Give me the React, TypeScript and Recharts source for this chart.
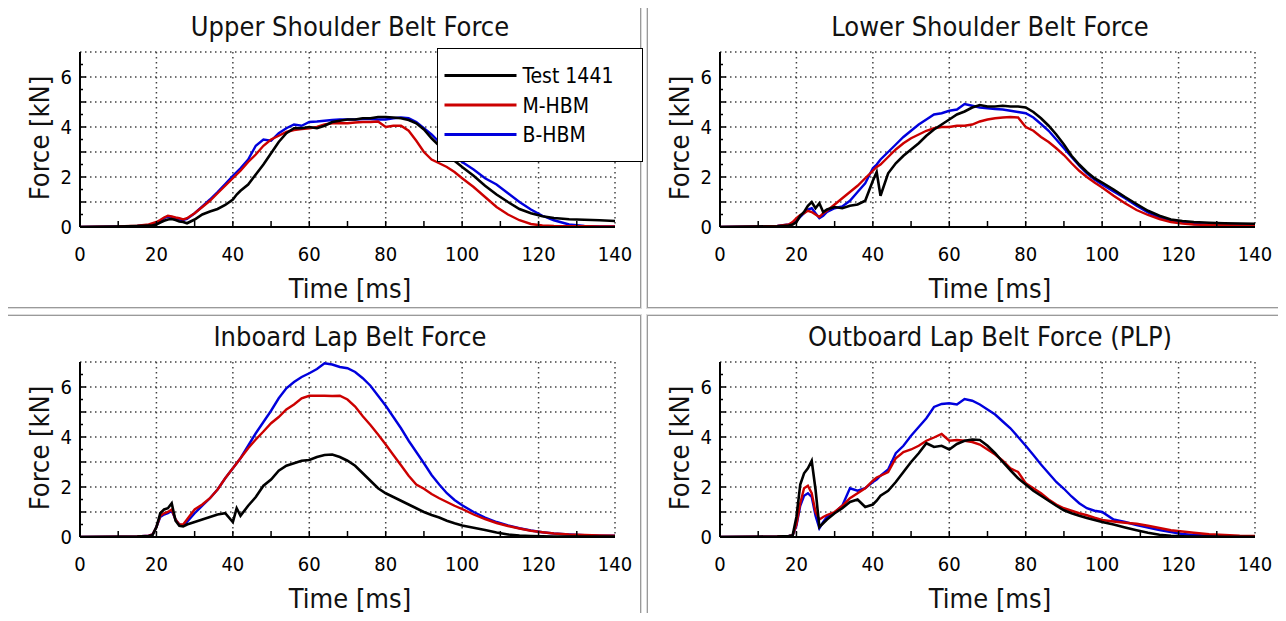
import React from 'react';
import { LineChart, Line, XAxis, YAxis, CartesianGrid, Legend } from 'recharts';

// Time samples [ms]
const time = [0, 10, 15, 18, 19, 20, 21, 22, 23, 24, 25, 26, 27, 28, 30, 32, 34, 36, 38, 40, 41, 42, 44, 46, 48, 50, 52, 54, 56, 58, 60, 62, 64, 66, 68, 70, 72, 74, 76, 78, 80, 82, 84, 86, 88, 90, 92, 94, 96, 98, 100, 103, 106, 109, 112, 115, 118, 121, 124, 128, 132, 136, 140];

// Upper Shoulder Belt Force [kN]
const upperTest = [0, 0.02, 0.04, 0.06, 0.07, 0.1, 0.18, 0.25, 0.3, 0.32, 0.28, 0.22, 0.2, 0.15, 0.3, 0.5, 0.62, 0.72, 0.88, 1.1, 1.3, 1.45, 1.7, 2.1, 2.5, 2.95, 3.4, 3.75, 3.95, 3.95, 4.0, 3.95, 4.05, 4.2, 4.25, 4.3, 4.3, 4.35, 4.35, 4.4, 4.4, 4.38, 4.35, 4.28, 4.15, 3.9, 3.55, 3.25, 2.95, 2.65, 2.4, 2.05, 1.65, 1.3, 1.0, 0.72, 0.55, 0.43, 0.36, 0.31, 0.29, 0.27, 0.24];
const upperM = [0, 0.02, 0.05, 0.1, 0.15, 0.2, 0.28, 0.38, 0.45, 0.42, 0.38, 0.35, 0.3, 0.35, 0.55, 0.8, 1.05, 1.35, 1.65, 1.95, 2.1, 2.25, 2.6, 2.9, 3.25, 3.5, 3.65, 3.8, 3.88, 3.92, 3.95, 4.0, 4.1, 4.15, 4.15, 4.15, 4.18, 4.2, 4.2, 4.22, 4.0, 4.05, 4.05, 3.85, 3.45, 3.0, 2.7, 2.55, 2.4, 2.2, 1.95, 1.6, 1.2, 0.8, 0.5, 0.27, 0.12, 0.06, 0.04, 0.03, 0.03, 0.02, 0.02];
const upperB = [0, 0.02, 0.04, 0.08, 0.12, 0.18, 0.25, 0.35, 0.42, 0.4, 0.35, 0.3, 0.28, 0.32, 0.55, 0.82, 1.1, 1.4, 1.72, 2.05, 2.2, 2.35, 2.7, 3.25, 3.5, 3.45, 3.75, 3.95, 4.1, 4.05, 4.2, 4.22, 4.25, 4.28, 4.3, 4.3, 4.3, 4.32, 4.32, 4.3, 4.3, 4.35, 4.38, 4.35, 4.2, 3.95, 3.7, 3.4, 3.1, 2.85, 2.6, 2.3, 1.95, 1.7, 1.35, 1.0, 0.7, 0.45, 0.27, 0.1, 0.04, 0.02, 0.02];

// Lower Shoulder Belt Force [kN]
const lowerTest = [0, 0.02, 0.03, 0.06, 0.1, 0.2, 0.45, 0.6, 0.85, 1.0, 0.75, 0.95, 0.6, 0.7, 0.8, 0.75, 0.85, 0.9, 1.05, 1.85, 2.2, 1.25, 2.15, 2.55, 2.85, 3.1, 3.35, 3.65, 3.9, 4.1, 4.3, 4.5, 4.62, 4.78, 4.88, 4.82, 4.82, 4.85, 4.82, 4.82, 4.78, 4.6, 4.35, 4.05, 3.7, 3.3, 2.85, 2.5, 2.2, 1.95, 1.78, 1.5, 1.2, 0.92, 0.65, 0.45, 0.3, 0.24, 0.2, 0.17, 0.15, 0.14, 0.13];
const lowerM = [0, 0.02, 0.04, 0.1, 0.2, 0.35, 0.48, 0.55, 0.65, 0.6, 0.5, 0.4, 0.55, 0.65, 0.9, 1.15, 1.4, 1.65, 1.95, 2.25, 2.4, 2.5, 2.8, 3.1, 3.35, 3.55, 3.7, 3.85, 3.95, 4.0, 4.0, 4.05, 4.05, 4.1, 4.22, 4.3, 4.35, 4.38, 4.4, 4.38, 4.0, 3.85, 3.6, 3.4, 3.15, 2.88, 2.55, 2.25, 2.0, 1.78, 1.58, 1.25, 0.95, 0.68, 0.48, 0.32, 0.2, 0.14, 0.1, 0.08, 0.07, 0.06, 0.06];
const lowerB = [0, 0.02, 0.04, 0.1, 0.15, 0.25, 0.4, 0.55, 0.7, 0.75, 0.55, 0.35, 0.45, 0.6, 0.75, 0.82, 1.05, 1.4, 1.75, 2.35, 2.5, 2.7, 3.0, 3.3, 3.6, 3.85, 4.1, 4.3, 4.5, 4.55, 4.65, 4.7, 4.92, 4.85, 4.78, 4.75, 4.72, 4.7, 4.65, 4.6, 4.55, 4.38, 4.12, 3.85, 3.5, 3.15, 2.8, 2.45, 2.15, 1.9, 1.7, 1.42, 1.15, 0.85, 0.58, 0.38, 0.27, 0.18, 0.12, 0.09, 0.07, 0.06, 0.06];

// Inboard Lap Belt Force [kN]
const inboardTest = [0, 0.01, 0.02, 0.04, 0.08, 0.4, 0.95, 1.1, 1.15, 1.35, 0.65, 0.45, 0.42, 0.5, 0.6, 0.7, 0.8, 0.9, 0.95, 0.6, 1.15, 0.85, 1.25, 1.6, 2.05, 2.3, 2.65, 2.85, 2.95, 3.05, 3.08, 3.2, 3.28, 3.3, 3.2, 3.05, 2.85, 2.55, 2.25, 1.95, 1.75, 1.6, 1.45, 1.3, 1.15, 1.0, 0.88, 0.78, 0.65, 0.55, 0.46, 0.37, 0.28, 0.18, 0.1, 0.06, 0.04, 0.03, 0.02, 0.02, 0.02, 0.02, 0.02];
const inboardM = [0, 0.01, 0.02, 0.05, 0.1, 0.4, 0.85, 0.95, 1.0, 1.1, 0.7, 0.5, 0.5, 0.7, 1.1, 1.3, 1.55, 1.9, 2.35, 2.75, 2.95, 3.15, 3.55, 3.9, 4.22, 4.55, 4.8, 5.1, 5.3, 5.55, 5.65, 5.65, 5.65, 5.64, 5.65, 5.5, 5.22, 4.83, 4.48, 4.1, 3.7, 3.28, 2.87, 2.45, 2.1, 1.93, 1.72, 1.55, 1.4, 1.25, 1.12, 0.9, 0.72, 0.56, 0.44, 0.34, 0.25, 0.19, 0.14, 0.1, 0.08, 0.06, 0.05];
const inboardB = [0, 0.01, 0.02, 0.05, 0.1, 0.4, 0.8, 0.9, 0.95, 1.05, 0.7, 0.5, 0.45, 0.6, 0.95, 1.25, 1.55, 1.9, 2.35, 2.75, 2.95, 3.15, 3.65, 4.15, 4.6, 5.05, 5.55, 5.95, 6.2, 6.4, 6.55, 6.72, 6.95, 6.9, 6.8, 6.75, 6.6, 6.35, 6.05, 5.65, 5.25, 4.8, 4.35, 3.85, 3.4, 2.95, 2.48, 2.1, 1.75, 1.48, 1.27, 1.0, 0.78, 0.6, 0.46, 0.35, 0.26, 0.19, 0.14, 0.1, 0.07, 0.05, 0.05];

// Outboard Lap Belt Force (PLP) [kN]
const outboardTest = [0, 0.01, 0.02, 0.04, 0.06, 0.8, 2.1, 2.55, 2.75, 3.05, 1.9, 0.4, 0.55, 0.7, 0.95, 1.15, 1.4, 1.5, 1.2, 1.3, 1.45, 1.65, 1.85, 2.2, 2.6, 3.0, 3.35, 3.75, 3.6, 3.65, 3.5, 3.72, 3.85, 3.9, 3.88, 3.65, 3.35, 3.0, 2.67, 2.35, 2.1, 1.85, 1.65, 1.45, 1.25, 1.07, 0.95, 0.85, 0.76, 0.68, 0.6, 0.5, 0.38, 0.27, 0.17, 0.09, 0.05, 0.03, 0.02, 0.02, 0.01, 0.01, 0.01];
const outboardM = [0, 0.01, 0.02, 0.04, 0.06, 0.5, 1.35, 1.95, 2.05, 1.75, 1.0, 0.7, 0.8, 0.88, 1.0, 1.25, 1.55, 1.75, 1.95, 2.25, 2.38, 2.45, 2.6, 3.15, 3.4, 3.5, 3.65, 3.85, 3.98, 4.12, 3.85, 3.88, 3.85, 3.8, 3.7, 3.5, 3.3, 3.05, 2.75, 2.6, 2.15, 1.95, 1.75, 1.5, 1.3, 1.15, 1.05, 0.95, 0.87, 0.77, 0.68, 0.62, 0.57, 0.53, 0.45, 0.36, 0.27, 0.22, 0.17, 0.11, 0.08, 0.05, 0.04];
const outboardB = [0, 0.01, 0.02, 0.04, 0.06, 0.45, 1.25, 1.65, 1.75, 1.6, 0.85, 0.35, 0.6, 0.8, 0.98, 1.25, 1.95, 1.85, 1.95, 2.2, 2.3, 2.45, 2.7, 3.35, 3.65, 4.05, 4.4, 4.75, 5.2, 5.32, 5.35, 5.3, 5.52, 5.45, 5.3, 5.1, 4.9, 4.62, 4.35, 4.0, 3.65, 3.28, 2.9, 2.55, 2.2, 1.93, 1.62, 1.35, 1.15, 1.05, 1.0, 0.7, 0.6, 0.48, 0.38, 0.28, 0.2, 0.12, 0.08, 0.05, 0.03, 0.02, 0.02];

// Axis ticks
const xTicks = [0, 10, 20, 30, 40, 50, 60, 70, 80, 90, 100, 110, 120, 130, 140];
const xLabelTicks = [0, 20, 40, 60, 80, 100, 120, 140];
const yTicks = [0, 0.5, 1, 1.5, 2, 2.5, 3, 3.5, 4, 4.5, 5, 5.5, 6, 6.5, 7];
const yLabelTicks = [0, 2, 4, 6];
const xGrid = [20, 40, 60, 80, 100, 120, 140];
const yGrid = [1, 2, 3, 4, 5, 6, 7];

const seriesNames = ['Test 1441', 'M-HBM', 'B-HBM'];
const seriesColors = ['#000000', '#cc0000', '#0000dd'];

const FONT = "'DejaVu Sans Condensed', 'DejaVu Sans', sans-serif";
const X_MARGIN = 20;
const Y_MARGIN = 8;

const buildRows = (test: number[], m: number[], b: number[]) =>
  time.map((t, i) => ({ t, test: test[i], m: m[i], b: b[i] }));

const XTick = (props: any) => {
  const { x, y, payload } = props;
  const v = payload.value;
  const axisY = y - X_MARGIN;
  return (
    <g>
      {v > 0 && v < 140 && (
        <line x1={x} x2={x} y1={axisY} y2={axisY - 6} stroke="#000" strokeWidth={1.5} />
      )}
      {xLabelTicks.includes(v) && (
        <text x={x} y={y} dy="0.71em" textAnchor="middle" fontFamily={FONT} fontSize={20} fill="#000" style={{ fontStretch: 'condensed' }}>
          {v}
        </text>
      )}
    </g>
  );
};

const YTick = (props: any) => {
  const { x, y, payload } = props;
  const v = payload.value;
  const axisX = x + Y_MARGIN;
  const len = Number.isInteger(v) ? 6 : 3;
  return (
    <g>
      {v > 0 && v < 7 && (
        <line x1={axisX} x2={axisX + len} y1={y} y2={y} stroke="#000" strokeWidth={1.5} />
      )}
      {yLabelTicks.includes(v) && (
        <text x={x} y={y} dy="0.36em" textAnchor="end" fontFamily={FONT} fontSize={20} fill="#000" style={{ fontStretch: 'condensed' }}>
          {v}
        </text>
      )}
    </g>
  );
};

const LegendBox = () => (
  <div style={{ width: 206, height: 114, border: '1.5px solid #000', background: '#fff', boxSizing: 'border-box' }}>
    <svg width={203} height={111} style={{ display: 'block' }}>
      {seriesNames.map((n, i) => (
        <g key={n}>
          <line x1={6.5} x2={78.5} y1={26.5 + 29.5 * i} y2={26.5 + 29.5 * i} stroke={seriesColors[i]} strokeWidth={3} />
          <text x={84.5} y={26.5 + 29.5 * i} dy="0.36em" fontFamily={FONT} fontSize={21} fill="#000" style={{ fontStretch: 'condensed' }}>
            {n}
          </text>
        </g>
      ))}
    </svg>
  </div>
);

type PanelProps = { left: number; top: number; title: string; rows: any[]; showLegend?: boolean };

const W = 632;
const H = 301;

const Panel = ({ left, top, title, rows, showLegend }: PanelProps) => (
  <div style={{ position: 'absolute', left, top, width: W, height: H, border: '1px solid #9a9a9a', boxShadow: '0 0 0 1px #dcdcdc' }}>
    <LineChart width={W} height={H} data={rows} margin={{ top: 46, right: 25, bottom: 0, left: 0 }}>
      <CartesianGrid verticalValues={xGrid} horizontalValues={yGrid} stroke="#444" strokeDasharray="1.5 3.5" strokeWidth={1.5} />
      <XAxis dataKey="t" type="number" domain={[0, 140]} ticks={xTicks} interval={0} tickSize={0} tickMargin={X_MARGIN}
        tick={<XTick />} tickLine={false} axisLine={{ stroke: '#000', strokeWidth: 2 }} height={80} allowDataOverflow />
      <YAxis type="number" domain={[0, 7]} ticks={yTicks} interval={0} tickSize={0} tickMargin={Y_MARGIN}
        tick={<YTick />} tickLine={false} axisLine={{ stroke: '#000', strokeWidth: 2 }} width={72} allowDataOverflow />
      <Line type="linear" dataKey="b" name={seriesNames[2]} stroke={seriesColors[2]} strokeWidth={2.4} dot={false} isAnimationActive={false} />
      <Line type="linear" dataKey="m" name={seriesNames[1]} stroke={seriesColors[1]} strokeWidth={2.4} dot={false} isAnimationActive={false} />
      <Line type="linear" dataKey="test" name={seriesNames[0]} stroke={seriesColors[0]} strokeWidth={2.6} dot={false} isAnimationActive={false} />
      {showLegend && (
        <Legend content={<LegendBox />} layout="vertical" verticalAlign="middle" align="center"
          wrapperStyle={{ left: 429, top: 42, width: 206, height: 114 }} />
      )}
    </LineChart>
    <svg width={W} height={H} style={{ position: 'absolute', left: 0, top: 0, pointerEvents: 'none' }}>
      <text x={342} y={30} textAnchor="middle" fontFamily={FONT} fontSize={27} fill="#111" style={{ fontStretch: 'condensed' }}>{title}</text>
      <text transform="translate(41,132) rotate(-90)" textAnchor="middle" fontFamily={FONT} fontSize={27} fill="#111" style={{ fontStretch: 'condensed' }}>Force [kN]</text>
      <text x={342} y={292} textAnchor="middle" fontFamily={FONT} fontSize={27} fill="#111" style={{ fontStretch: 'condensed' }}>Time [ms]</text>
    </svg>
  </div>
);

export default function App() {
  return (
    <div style={{ position: 'relative', margin: -8, width: 1286, height: 621, background: '#fff', overflow: 'hidden' }}>
      <Panel left={7} top={5} title="Upper Shoulder Belt Force" rows={buildRows(upperTest, upperM, upperB)} showLegend />
      <Panel left={647} top={5} title="Lower Shoulder Belt Force" rows={buildRows(lowerTest, lowerM, lowerB)} />
      <Panel left={7} top={315} title="Inboard Lap Belt Force" rows={buildRows(inboardTest, inboardM, inboardB)} />
      <Panel left={647} top={315} title="Outboard Lap Belt Force (PLP)" rows={buildRows(outboardTest, outboardM, outboardB)} />
    </div>
  );
}
